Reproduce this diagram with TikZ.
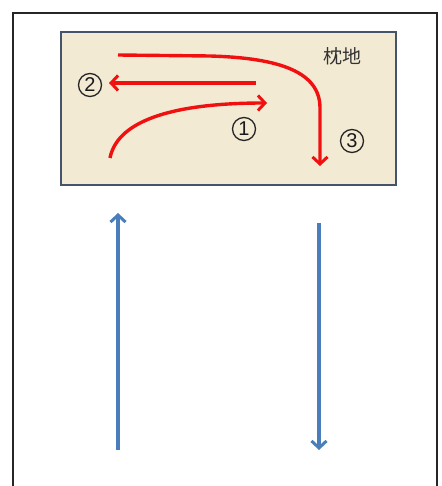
\documentclass[tikz,border=0pt]{standalone}
\usepackage{fontspec}
\newfontfamily\cjk{Noto Sans CJK JP}
\newfontfamily\numfont{Liberation Sans}
\usetikzlibrary{arrows.meta}
\definecolor{fieldfill}{HTML}{F3EAD3}
\definecolor{fieldline}{HTML}{44546A}
\definecolor{redarr}{HTML}{F01010}
\definecolor{bluearr}{HTML}{4A7EBB}
\tikzset{
  redpath/.style={draw=redarr,line width=3.4pt,-{Straight Barb[length=7pt,width=15pt,line width=3pt]}},
  bluepath/.style={draw=bluearr,line width=3.2pt,-{Straight Barb[length=7pt,width=15pt,line width=3pt]}},
  numlabel/.style={circle,draw=black!85,line width=1.3pt,minimum size=23pt,inner sep=0pt,
    font=\numfont\fontsize{20}{20}\selectfont,text=black!90}
}
\begin{document}
\begin{tikzpicture}[x=1pt,y=-1pt]
\useasboundingbox (0,0) rectangle (441,486);
\fill[white] (0,0) rectangle (441,486);
% outer frame
\draw[line width=2.6pt,black!85] (13,490) -- (13,13) -- (437,13) -- (437,490);
% headland field
\node[draw=fieldline,fill=fieldfill,line width=2.6pt,minimum width=335pt,minimum height=153pt,inner sep=0pt] (field) at (228.5,108.5) {};
\node[font=\cjk\fontsize{19}{19}\selectfont,inner sep=0pt,text=black!80] (title) at (342,56) {枕地};
% labels
\node[numlabel] (n1) at (244,129) {1};
\node[numlabel] (n2) at (90,85) {2};
\node[numlabel] (n3) at (352,141) {3};
% coordinates
\coordinate (a1s) at (110,158);
\coordinate (a1e) at (267,103);
\coordinate (a2s) at (256,83);
\coordinate (a2e) at (109,83);
\coordinate (a3s) at (118,55);
\coordinate (a3m) at (210,56);
\coordinate (a3k) at (320,108);
\coordinate (a3e) at (320,166);
\coordinate (b1s) at (118,450);
\coordinate (b1e) at (118,213);
\coordinate (b2s) at (319,223);
\coordinate (b2e) at (319,450);
% red arrows
\draw[redpath] (a1s) .. controls (118,118) and (180,103) .. (a1e);
\draw[redpath] (a2s) -- (a2e);
\draw[redpath] (a3s) -- (a3m) .. controls (280,58) and (320,72) .. (a3k) -- (a3e);
% blue arrows
\draw[bluepath] (b1s) -- (b1e);
\draw[bluepath] (b2s) -- (b2e);
\end{tikzpicture}
\end{document}
